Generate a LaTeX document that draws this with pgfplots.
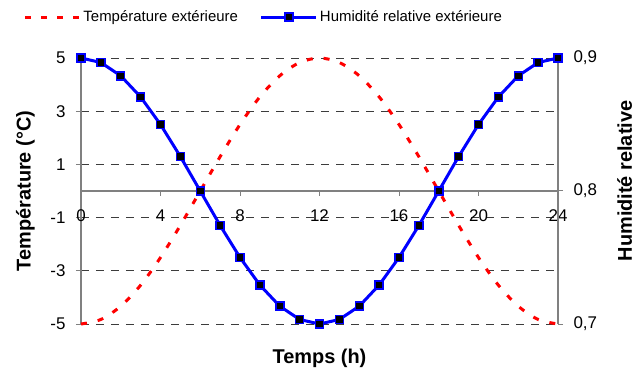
\documentclass[border=0pt]{standalone}
\usepackage{fontspec}
\setmainfont{Liberation Sans}
\usepackage{pgfplots}
\pgfplotsset{compat=1.18}
\definecolor{axgray}{RGB}{128,128,128}
\definecolor{gridgray}{RGB}{60,60,60}

\begin{document}
\begin{tikzpicture}
\path[use as bounding box] (-81bp,-50bp) rectangle (559bp,324bp);
% left axis: temperature
\begin{axis}[
  at={(0,0)}, anchor=south west,
  scale only axis, width=477bp, height=266bp,
  xmin=0, xmax=24, ymin=-5, ymax=5,
  clip=false,
  axis x line=middle, axis y line=left,
  axis line style={-, draw=axgray, line width=1.2bp},
  hide obscured x ticks=false,
  hide obscured y ticks=false,
  xtick={0,4,8,12,16,20,24},
  xticklabels={0,4,8,12,16,20,24},
  ytick={-5,-3,-1,1,3,5},
  yticklabels={-5,-3,-1,1,3,5},
  tick align=outside,
  major tick length=5bp,
  tick style={draw=axgray, line width=1bp},
  ymajorgrids,
  grid style={draw=gridgray, line width=0.8bp, dash pattern=on 8bp off 7bp},
  tick label style={font=\fontsize{17}{19}\selectfont},
  xticklabel style={yshift=-10bp},
  yticklabel style={xshift=-7bp},
  xlabel={Temps (h)}, ylabel={Température (°C)},
  every axis x label/.style={at={(axis description cs:0.5,0)}, anchor=north,
    yshift=-25bp, inner sep=0pt, font=\bfseries\fontsize{20}{22}\selectfont},
  every axis y label/.style={at={(axis description cs:0,0.5)}, xshift=-46bp,
    rotate=90, anchor=south, inner sep=0pt, font=\bfseries\fontsize{20}{22}\selectfont},
]
\addplot[red, line width=3bp, dash pattern=on 6bp off 11bp, smooth] coordinates {
  (0,-5)(1,-4.83)(2,-4.33)(3,-3.54)(4,-2.5)(5,-1.29)(6,0)
  (7,1.29)(8,2.5)(9,3.54)(10,4.33)(11,4.83)(12,5)
  (13,4.83)(14,4.33)(15,3.54)(16,2.5)(17,1.29)(18,0)
  (19,-1.29)(20,-2.5)(21,-3.54)(22,-4.33)(23,-4.83)(24,-5)
};
\end{axis}
% right axis: relative humidity
\begin{axis}[
  at={(0,0)}, anchor=south west,
  scale only axis, width=477bp, height=266bp,
  xmin=0, xmax=24, ymin=0.7, ymax=0.9,
  clip=false,
  axis x line=none, axis y line=right,
  axis line style={-, draw=axgray, line width=1.2bp},
  ytick={0.7,0.8,0.9},
  yticklabels={{0,7},{0,8},{0,9}},
  tick align=outside,
  major tick length=5bp,
  tick style={draw=axgray, line width=1bp},
  tick label style={font=\fontsize{17}{19}\selectfont},
  yticklabel style={xshift=7bp},
  ylabel={Humidité relative},
  every axis y label/.style={at={(axis description cs:1,0.538)}, xshift=59bp,
    rotate=90, anchor=north, inner sep=0pt, font=\bfseries\fontsize{20}{22}\selectfont},
  legend columns=2,
  legend style={draw=none, fill=none, at={(axis description cs:0.383,1.154)},
    anchor=center, font=\fontsize{15}{17}\selectfont,
    /tikz/every even column/.append style={column sep=20bp}},
  legend image code/.code={\draw[mark repeat=2,mark phase=2,#1]
    plot coordinates {(0bp,0bp) (27.5bp,0bp) (55bp,0bp)};},
]
\addlegendimage{red, line width=3bp, dash pattern=on 6bp off 10bp}
\addlegendentry{Température extérieure}
\addplot[blue, line width=3bp, mark=square*, mark size=4bp,
  mark options={fill=black, draw=blue, line width=1.5bp, solid}] coordinates {
  (0,0.9)(1,0.8966)(2,0.8866)(3,0.8707)(4,0.85)(5,0.8259)(6,0.8)
  (7,0.7741)(8,0.75)(9,0.7293)(10,0.7134)(11,0.7034)(12,0.7)
  (13,0.7034)(14,0.7134)(15,0.7293)(16,0.75)(17,0.7741)(18,0.8)
  (19,0.8259)(20,0.85)(21,0.8707)(22,0.8866)(23,0.8966)(24,0.9)
};
\addlegendentry{Humidité relative extérieure}
\end{axis}
\end{tikzpicture}
\end{document}
